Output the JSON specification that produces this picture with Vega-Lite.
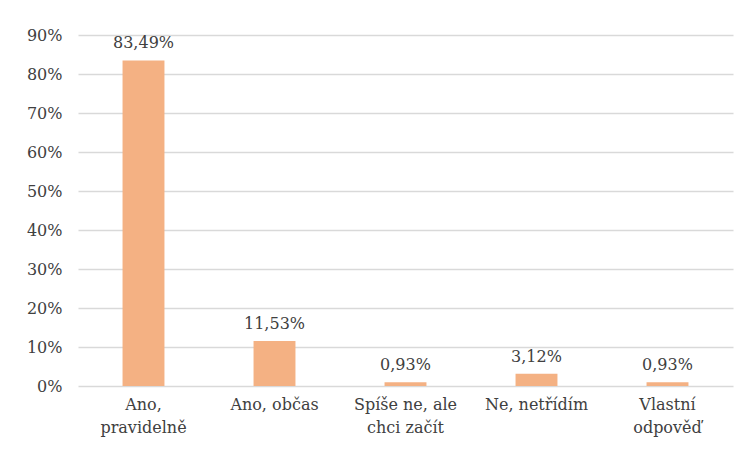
{
  "$schema": "https://vega.github.io/schema/vega-lite/v6.json",
  "width": 655,
  "height": 351,
  "autosize": {"type": "none"},
  "padding": {"left": 78, "top": 35, "right": 14, "bottom": 65},
  "background": "white",
  "config": {
    "locale": {"number": {"decimal": ",", "thousands": " ", "grouping": [3], "currency": ["", " Kč"]}},
    "view": {"stroke": null},
    "font": "DejaVu Serif"
  },
  "data": {
    "values": [
      {"odpoved": "Ano, pravidelně", "podil": 0.8349},
      {"odpoved": "Ano, občas", "podil": 0.1153},
      {"odpoved": "Spíše ne, ale chci začít", "podil": 0.0093},
      {"odpoved": "Ne, netřídím", "podil": 0.0312},
      {"odpoved": "Vlastní odpověď", "podil": 0.0093}
    ]
  },
  "encoding": {
    "x": {
      "field": "odpoved",
      "type": "nominal",
      "sort": null,
      "scale": {"paddingInner": 0.68, "paddingOuter": 0.34},
      "axis": {
        "title": null,
        "labelAngle": 0,
        "labelFont": "DejaVu Serif",
        "labelFontSize": 16,
        "labelColor": "#404040",
        "labelPadding": 10,
        "labelLineHeight": 23,
        "labelBaseline": "top",
        "ticks": false,
        "domain": false,
        "labelExpr": "datum.value == 'Ano, pravidelně' ? ['Ano,', 'pravidelně'] : datum.value == 'Spíše ne, ale chci začít' ? ['Spíše ne, ale', 'chci začít'] : datum.value == 'Vlastní odpověď' ? ['Vlastní', 'odpověď'] : datum.value"
      }
    },
    "y": {
      "field": "podil",
      "type": "quantitative",
      "scale": {"domain": [0, 0.9], "nice": false},
      "axis": {
        "title": null,
        "format": ".0%",
        "values": [0, 0.1, 0.2, 0.3, 0.4, 0.5, 0.6, 0.7, 0.8, 0.9],
        "labelFont": "DejaVu Serif",
        "labelFontSize": 16,
        "labelColor": "#404040",
        "labelPadding": 16,
        "ticks": false,
        "domain": false,
        "gridColor": "#d9d9d9",
        "gridWidth": 1.5
      }
    }
  },
  "layer": [
    {"mark": {"type": "bar", "color": "#F4B183"}},
    {
      "mark": {"type": "text", "baseline": "bottom", "dy": -9, "font": "DejaVu Serif", "fontSize": 16, "color": "#404040"},
      "encoding": {"text": {"field": "podil", "type": "quantitative", "format": ".2%"}}
    }
  ]
}
